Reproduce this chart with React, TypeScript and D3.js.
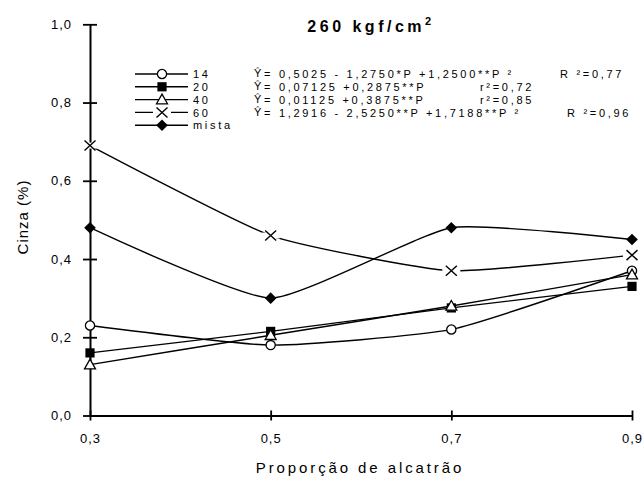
import React, { useEffect, useRef } from "react";
import * as d3 from "d3";

const proportions = [0.3, 0.5, 0.7, 0.9];
const serie14 = [0.23, 0.18, 0.22, 0.37];
const serie20 = [0.16, 0.215, 0.275, 0.33];
const serie40 = [0.13, 0.205, 0.28, 0.36];
const serie60 = [0.69, 0.46, 0.37, 0.41];
const serieMista = [0.48, 0.3, 0.48, 0.45];
const seriesNames = ["14", "20", "40", "60", "mista"];
const markerTypes = ["circle", "square", "triangle", "cross", "diamond"];
const equations = [
  "= 0,5025 - 1,2750*P  +1,2500**P ²",
  "= 0,07125 +0,2875**P",
  "= 0,01125 +0,3875**P",
  "= 1,2916 - 2,5250**P  +1,7188**P ²",
];
const fitLabels = ["R ²=0,77", "r²=0,72", "r²=0,85", "R ²=0,96"];
const yTicks = [0, 0.2, 0.4, 0.6, 0.8, 1.0];
const xTicks = [0.3, 0.5, 0.7, 0.9];

const allSeries = [serie14, serie20, serie40, serie60, serieMista];
const FONT = "'Liberation Sans', Arial, sans-serif";

function drawMarker(g, type, cx, cy) {
  const m = g.append("g").attr("transform", `translate(${cx},${cy})`);
  if (type === "circle") {
    m.append("circle").attr("r", 4.6).attr("fill", "#fff").attr("stroke", "#000").attr("stroke-width", 1.3);
  } else if (type === "square") {
    m.append("rect").attr("x", -4.6).attr("y", -4.6).attr("width", 9.2).attr("height", 9.2).attr("fill", "#000");
  } else if (type === "triangle") {
    m.append("path").attr("d", "M0,-5.5L5.5,4.2L-5.5,4.2Z").attr("fill", "#fff").attr("stroke", "#000").attr("stroke-width", 1.3);
  } else if (type === "cross") {
    m.append("rect").attr("x", -9).attr("y", -3).attr("width", 18).attr("height", 6).attr("fill", "#fff");
    m.append("path").attr("d", "M-5.5,-5L5.5,5M-5.5,5L5.5,-5").attr("stroke", "#000").attr("stroke-width", 1.4);
  } else {
    m.append("path").attr("d", "M0,-5.8L5.8,0L0,5.8L-5.8,0Z").attr("fill", "#000");
  }
}

const Chart = () => {
  const svgRef = useRef(null);

  useEffect(() => {
    const svg = d3.select(svgRef.current);
    svg.selectAll("*").remove();

    const x = d3.scaleLinear().domain([0.3, 0.9]).range([90, 632]);
    const y = d3.scaleLinear().domain([0, 1]).range([415.5, 24.3]);
    const fmt = (v) => d3.format(".1f")(v).replace(".", ",");

    // y axis, ticks crossing the line
    const gy = svg.append("g").attr("transform", "translate(90,0)")
      .call(d3.axisLeft(y).tickValues(yTicks).tickFormat(fmt).tickSize(7).tickSizeOuter(0).tickPadding(11));
    gy.select(".domain").attr("stroke-width", 2);
    gy.selectAll(".tick line").attr("x1", 7).attr("stroke-width", 1.8);
    gy.selectAll(".tick text").attr("font-family", FONT).attr("font-size", 13).attr("letter-spacing", 1).attr("fill", "#000");

    // x axis
    const gx = svg.append("g").attr("transform", "translate(0,415.5)")
      .call(d3.axisBottom(x).tickValues(xTicks).tickFormat(fmt).tickSize(5).tickSizeOuter(0).tickPadding(13));
    gx.select(".domain").attr("stroke-width", 2);
    gx.selectAll(".tick line").attr("y1", -5).attr("stroke-width", 1.8);
    gx.selectAll(".tick text").attr("font-family", FONT).attr("font-size", 13).attr("letter-spacing", 1).attr("fill", "#000");

    // smoothed curves (gentle, like the spreadsheet's smoothing)
    const line = d3.line().x((d) => x(d[0])).y((d) => y(d[1])).curve(d3.curveCardinal.tension(0.5));
    allSeries.forEach((vals) => {
      const pts = proportions.map((p, j) => [p, vals[j]]);
      svg.append("path").attr("d", line(pts)).attr("fill", "none").attr("stroke", "#000").attr("stroke-width", 1.4);
    });
    allSeries.forEach((vals, i) => {
      proportions.forEach((p, j) => drawMarker(svg, markerTypes[i], x(p), y(vals[j])));
    });

    // legend
    const rowY = (i) => 74 + i * 12.8;
    const legendText = (sel) => sel.attr("font-family", FONT).attr("font-size", 11).attr("letter-spacing", 2.7);
    seriesNames.forEach((name, i) => {
      const ly = rowY(i);
      svg.append("line").attr("x1", 135).attr("x2", 188).attr("y1", ly).attr("y2", ly).attr("stroke", "#000").attr("stroke-width", 1.4);
      drawMarker(svg, markerTypes[i], 162, ly);
      legendText(svg.append("text").attr("x", 193).attr("y", ly + 4.2).text(name));
    });
    const fitX = [560, 480, 480, 567];
    equations.forEach((eq, i) => {
      svg.append("text").attr("x", 254).attr("y", rowY(i) + 3.2).text("Ŷ")
        .attr("font-family", FONT).attr("font-size", 11);
      legendText(svg.append("text").attr("x", 264).attr("y", rowY(i) + 4.2).text(eq));
      legendText(svg.append("text").attr("x", fitX[i]).attr("y", rowY(i) + 4.2).text(fitLabels[i]));
    });

    // title and axis titles
    const title = svg.append("text").attr("x", 371).attr("y", 32).attr("text-anchor", "middle")
      .attr("font-family", FONT).attr("font-size", 16).attr("font-weight", "bold").attr("letter-spacing", 3.5);
    title.append("tspan").text("260 kgf/cm");
    title.append("tspan").text("2").attr("font-size", 11).attr("dy", -7);

    svg.append("text").attr("x", 360).attr("y", 473).attr("text-anchor", "middle").text("Proporção de alcatrão")
      .attr("font-family", FONT).attr("font-size", 15).attr("letter-spacing", 2.9);
    svg.append("text").attr("transform", "translate(28,217) rotate(-90)").attr("text-anchor", "middle").text("Cinza (%)")
      .attr("font-family", FONT).attr("font-size", 15).attr("letter-spacing", 1);
  }, []);

  return <svg ref={svgRef} width={644} height={479} style={{ position: "absolute", left: 0, top: 0, background: "#fff" }} />;
};

export default function App() {
  return <Chart />;
}
